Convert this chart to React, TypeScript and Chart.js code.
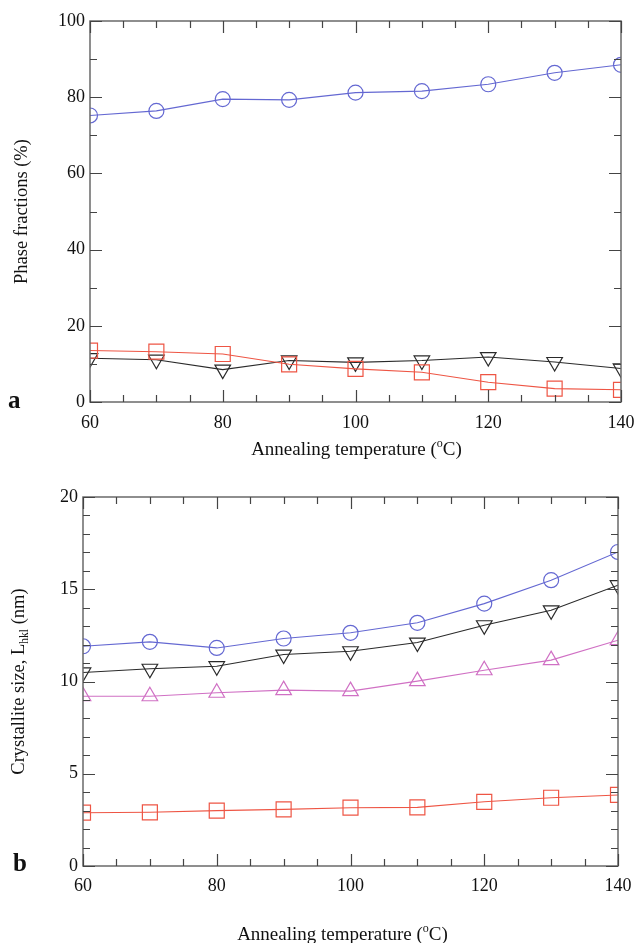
import React, { useEffect, useRef } from 'react';
import { Chart, registerables } from 'chart.js';

Chart.register(...registerables);

// ---------- data ----------
const temperatures = [60, 70, 80, 90, 100, 110, 120, 130, 140];

// panel a: phase fractions (%)
const phaseCircle = [75.2, 76.4, 79.5, 79.3, 81.2, 81.6, 83.4, 86.4, 88.5];
const phaseSquare = [13.5, 13.2, 12.6, 9.9, 8.7, 7.8, 5.2, 3.5, 3.2];
const phaseDownTriangle = [11.5, 11.1, 8.5, 10.9, 10.4, 10.9, 11.8, 10.5, 8.8];

// panel b: crystallite size (nm)
const sizeCircle = [11.91, 12.15, 11.82, 12.33, 12.64, 13.18, 14.22, 15.49, 17.02];
const sizeDownTriangle = [10.49, 10.69, 10.83, 11.46, 11.64, 12.11, 13.05, 13.86, 15.22];
const sizeUpTriangle = [9.2, 9.2, 9.39, 9.53, 9.48, 10.02, 10.61, 11.16, 12.24];
const sizeSquare = [2.89, 2.91, 3.0, 3.07, 3.16, 3.18, 3.48, 3.7, 3.85];

// axes / ticks
const xRange = [60, 140];
const xMajorStep = 20;
const xMinorStep = 5;
const phaseRange = [0, 100];
const phaseMajorStep = 20;
const phaseMinorStep = 10;
const sizeRange = [0, 20];
const sizeMajorStep = 5;
const sizeMinorStep = 1;

const xTitleMain = 'Annealing temperature (';
const xTitleSup = 'o';
const xTitleEnd = 'C)';
const phaseTitle = 'Phase fractions (%)';
const sizeTitleMain = 'Crystallite size, L';
const sizeTitleSub = 'hkl';
const sizeTitleEnd = ' (nm)';

// ---------- styles ----------
const FONT = "'Liberation Serif', 'Times New Roman', serif";
const BLUE = '#6468d2';
const RED = '#ee5544';
const BLACK = '#2a2a2a';
const PINK = '#d070c4';

type Part = { t: string; size: number; dy: number; bold?: boolean };

function drawParts(ctx: CanvasRenderingContext2D, parts: Part[], cx: number, cy: number, rotate: boolean, baseOff: number) {
  ctx.save();
  ctx.translate(cx, cy);
  if (rotate) ctx.rotate(-Math.PI / 2);
  ctx.fillStyle = '#111';
  ctx.textBaseline = 'alphabetic';
  ctx.textAlign = 'left';
  let total = 0;
  const widths = parts.map((p) => {
    ctx.font = `${p.bold ? 'bold ' : ''}${p.size}px ${FONT}`;
    const w = ctx.measureText(p.t).width;
    total += w;
    return w;
  });
  let x = -total / 2;
  parts.forEach((p, i) => {
    ctx.font = `${p.bold ? 'bold ' : ''}${p.size}px ${FONT}`;
    ctx.fillText(p.t, x, baseOff + p.dy);
    x += widths[i];
  });
  ctx.restore();
}

function makeFramePlugin(o: {
  yMajor: number; yMinor: number; yRange: number[];
  xTitleY: number; xTitleDX: number; yTitleX: number;
  yTitle: Part[]; letter: string; letterX: number; letterY: number;
}) {
  return {
    id: 'frameTicks',
    afterDraw(chart: any) {
      const { ctx, chartArea: a, scales } = chart;
      const xs = scales.x;
      const ys = scales.y;
      ctx.save();
      ctx.strokeStyle = '#6a6a6a';
      ctx.lineWidth = 1.5;
      ctx.strokeRect(a.left, a.top, a.right - a.left, a.bottom - a.top);
      ctx.strokeStyle = '#444';
      ctx.lineWidth = 1.2;
      ctx.beginPath();
      for (let v = xRange[0]; v <= xRange[1] + 1e-9; v += xMinorStep) {
        const major = Math.abs((v - xRange[0]) % xMajorStep) < 1e-9;
        const len = major ? 12 : 7;
        const px = Math.round(xs.getPixelForValue(v)) + 0.5;
        ctx.moveTo(px, a.bottom); ctx.lineTo(px, a.bottom - len);
        ctx.moveTo(px, a.top); ctx.lineTo(px, a.top + len);
      }
      for (let v = o.yRange[0]; v <= o.yRange[1] + 1e-9; v += o.yMinor) {
        const major = Math.abs((v - o.yRange[0]) % o.yMajor) < 1e-9;
        const len = major ? 12 : 7;
        const py = Math.round(ys.getPixelForValue(v)) + 0.5;
        ctx.moveTo(a.left, py); ctx.lineTo(a.left + len, py);
        ctx.moveTo(a.right, py); ctx.lineTo(a.right - len, py);
      }
      ctx.stroke();
      ctx.restore();

      // x title
      const cx = (a.left + a.right) / 2 + o.xTitleDX;
      drawParts(ctx, [
        { t: xTitleMain, size: 19, dy: 0 },
        { t: xTitleSup, size: 12, dy: -8 },
        { t: xTitleEnd, size: 19, dy: 0 },
      ], cx, o.xTitleY, false, 0);
      // y title
      drawParts(ctx, o.yTitle, o.yTitleX, (a.top + a.bottom) / 2, true, 4.3);
      // panel letter
      ctx.save();
      ctx.fillStyle = '#111';
      ctx.font = `bold 25px ${FONT}`;
      ctx.textAlign = 'left';
      ctx.textBaseline = 'alphabetic';
      ctx.fillText(o.letter, o.letterX, o.letterY);
      ctx.restore();
    },
  };
}

function ds(label: string, values: number[], color: string, style: string, rotation: number, radius: number) {
  return {
    label,
    data: temperatures.map((t, i) => ({ x: t, y: values[i] })),
    borderColor: color,
    borderWidth: 1.1,
    pointStyle: style,
    pointRotation: rotation,
    pointRadius: radius,
    pointHoverRadius: radius,
    pointBorderColor: color,
    pointBackgroundColor: 'rgba(0,0,0,0)',
    pointBorderWidth: 1.2,
    tension: 0,
    fill: false,
  };
}

function buildConfig(p: {
  datasets: any[]; yRange: number[]; yMajor: number; yMinor: number;
  padTop: number; padRight: number; yWidth: number; xHeight: number; xPad: number;
  plugin: any;
}): any {
  const tickFont = { family: FONT, size: 18 };
  return {
    type: 'line',
    data: { datasets: p.datasets },
    options: {
      animation: false,
      responsive: false,
      devicePixelRatio: 1,
      layout: { padding: { left: 0, top: p.padTop, right: p.padRight, bottom: 0 } },
      plugins: { legend: { display: false }, tooltip: { enabled: false } },
      scales: {
        x: {
          type: 'linear',
          min: xRange[0],
          max: xRange[1],
          grid: { display: false, drawTicks: false },
          border: { display: false },
          ticks: { stepSize: xMajorStep, padding: p.xPad, font: tickFont, color: '#111', maxRotation: 0, autoSkip: false },
          afterFit: (s: any) => {
            s.height = p.xHeight;
            s.paddingLeft = 0;
            s.paddingRight = 0;
          },
        },
        y: {
          type: 'linear',
          min: p.yRange[0],
          max: p.yRange[1],
          grid: { display: false, drawTicks: false },
          border: { display: false },
          ticks: { stepSize: p.yMajor, padding: 5, font: tickFont, color: '#111' },
          afterFit: (s: any) => {
            s.width = p.yWidth;
            s.paddingTop = 0;
            s.paddingBottom = 0;
          },
        },
      },
    },
    plugins: [p.plugin],
  };
}

export default function App() {
  const topRef = useRef<HTMLCanvasElement>(null);
  const botRef = useRef<HTMLCanvasElement>(null);

  useEffect(() => {
    const topCfg = buildConfig({
      datasets: [
        ds('circle', phaseCircle, BLUE, 'circle', 0, 7.5),
        ds('square', phaseSquare, RED, 'rect', 0, 10.6),
        ds('down triangle', phaseDownTriangle, BLACK, 'triangle', 180, 9),
      ],
      yRange: phaseRange, yMajor: phaseMajorStep, yMinor: phaseMinorStep,
      padTop: 21, padRight: 15, yWidth: 90, xHeight: 68, xPad: 10,
      plugin: makeFramePlugin({
        yMajor: phaseMajorStep, yMinor: phaseMinorStep, yRange: phaseRange,
        xTitleY: 455, xTitleDX: 1, yTitleX: 23,
        yTitle: [{ t: phaseTitle, size: 18.5, dy: 0 }],
        letter: 'a', letterX: 8, letterY: 408,
      }),
    });
    const botCfg = buildConfig({
      datasets: [
        ds('circle', sizeCircle, BLUE, 'circle', 0, 7.5),
        ds('down triangle', sizeDownTriangle, BLACK, 'triangle', 180, 9),
        ds('up triangle', sizeUpTriangle, PINK, 'triangle', 0, 9),
        ds('square', sizeSquare, RED, 'rect', 0, 10.6),
      ],
      yRange: sizeRange, yMajor: sizeMajorStep, yMinor: sizeMinorStep,
      padTop: 27, padRight: 18, yWidth: 83, xHeight: 77, xPad: 9,
      plugin: makeFramePlugin({
        yMajor: sizeMajorStep, yMinor: sizeMinorStep, yRange: sizeRange,
        xTitleY: 940 - 470, xTitleDX: -8, yTitleX: 20,
        yTitle: [
          { t: sizeTitleMain, size: 18.5, dy: 0 },
          { t: sizeTitleSub, size: 11.5, dy: 4 },
          { t: sizeTitleEnd, size: 18.5, dy: 0 },
        ],
        letter: 'b', letterX: 13, letterY: 871 - 470,
      }),
    });
    const c1 = new Chart(topRef.current as HTMLCanvasElement, topCfg);
    const c2 = new Chart(botRef.current as HTMLCanvasElement, botCfg);
    return () => {
      c1.destroy();
      c2.destroy();
    };
  }, []);

  return (
    <div style={{ position: 'absolute', left: 0, top: 0, width: 636, height: 943, background: '#fff' }}>
      <canvas ref={topRef} width={636} height={470} style={{ position: 'absolute', left: 0, top: 0 }} />
      <canvas ref={botRef} width={636} height={473} style={{ position: 'absolute', left: 0, top: 470 }} />
    </div>
  );
}
